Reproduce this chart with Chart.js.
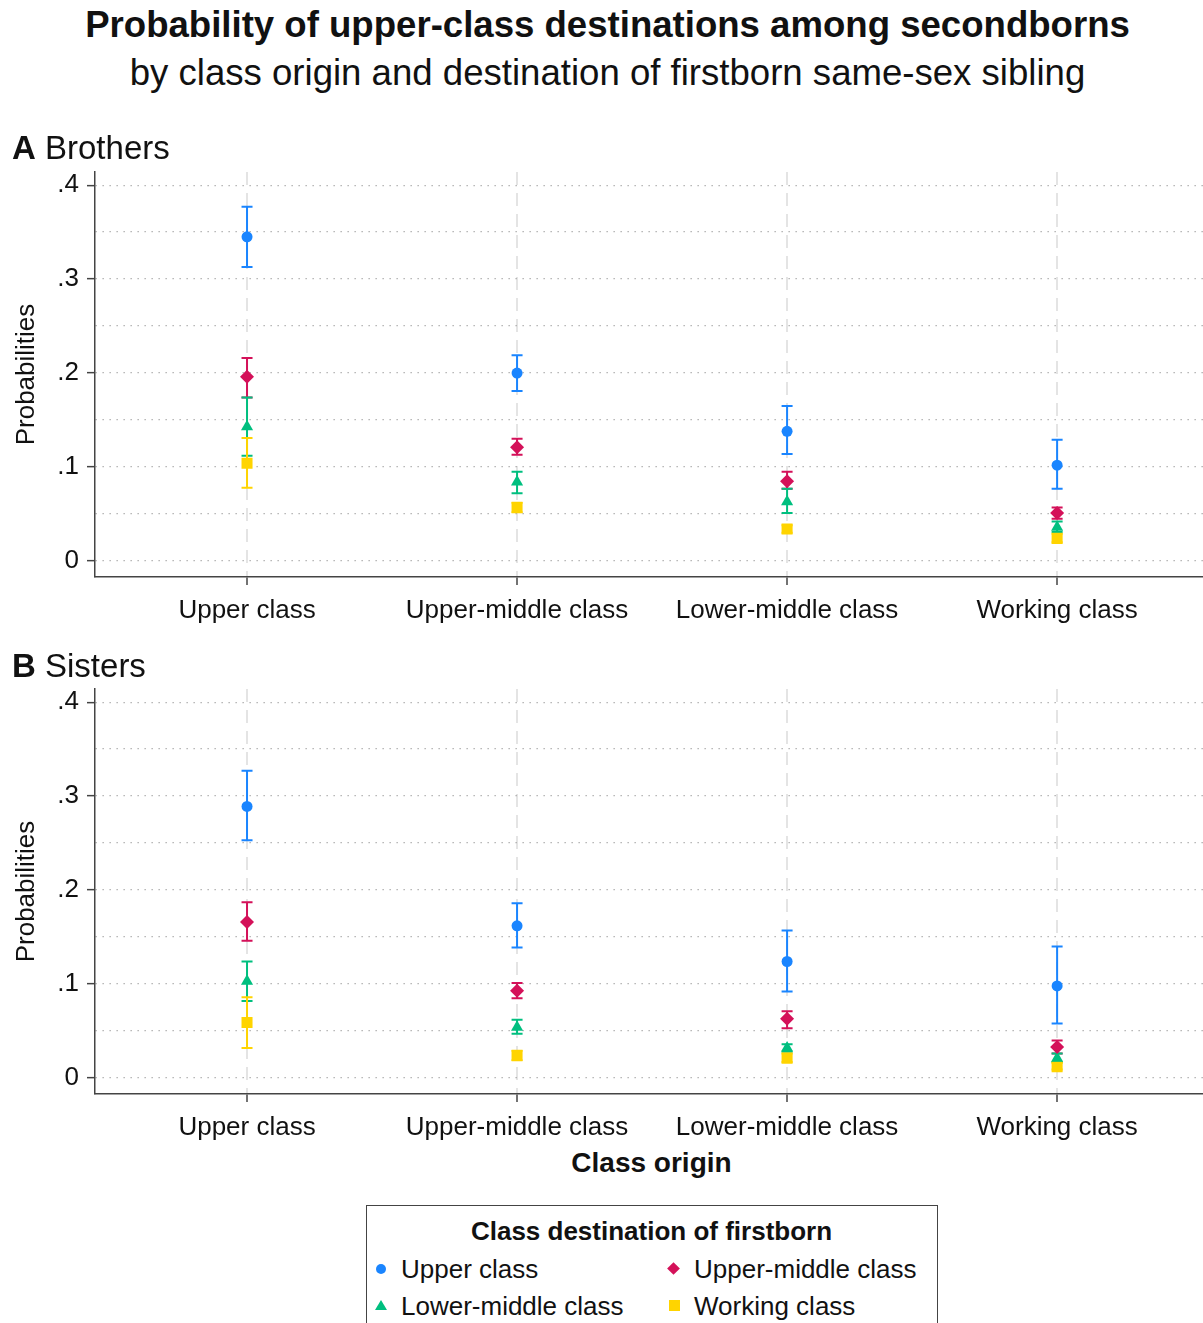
<!DOCTYPE html>
<html>
<head>
<meta charset="utf-8">
<script src="https://cdn.jsdelivr.net/npm/chart.js@4.4.1/dist/chart.umd.min.js"></script>
<style>
  html, body { margin:0; padding:0; background:#fff; overflow:hidden; width:1203px; height:1323px; }
  body { position:relative; font-family:"Liberation Sans", Arial, sans-serif; color:#111; }
  .t { position:absolute; white-space:nowrap; line-height:1; }
  canvas { position:absolute; left:0; }
  .mk { position:absolute; }
</style>
</head>
<body>
<canvas id="cA" width="1211" height="478" style="top:152px"></canvas>
<canvas id="cB" width="1211" height="478" style="top:669px"></canvas>

<div class="t" style="left:0;width:1215px;text-align:center;top:7px;font-size:36.6px;font-weight:bold;">Probability of upper-class destinations among secondborns</div>
<div class="t" style="left:0;width:1215px;text-align:center;top:55px;font-size:36.6px;">by class origin and destination of firstborn same-sex sibling</div>
<div class="t" style="left:12px;top:131px;font-size:33px;"><b>A</b> Brothers</div>
<div class="t" style="left:12px;top:649px;font-size:33px;"><b>B</b> Sisters</div>
<div class="t" style="left:0;width:1303px;text-align:center;top:1149px;font-size:28px;font-weight:bold;">Class origin</div>

<div style="position:absolute;left:366px;top:1205px;width:572px;height:140px;border:1.5px solid #444;box-sizing:border-box;"></div>
<div class="t" style="left:366px;width:571px;text-align:center;top:1218px;font-size:26px;font-weight:bold;">Class destination of firstborn</div>
<div class="mk" style="left:376px;top:1264px;width:10px;height:10px;border-radius:50%;background:#1a85ff;"></div>
<div class="t" style="left:401px;top:1256px;font-size:26px;">Upper class</div>
<div class="mk" style="left:669px;top:1264px;width:9px;height:9px;transform:rotate(45deg);background:#d41159;"></div>
<div class="t" style="left:694px;top:1256px;font-size:26px;">Upper-middle class</div>
<div class="mk" style="left:375px;top:1300px;width:0;height:0;border-left:6px solid transparent;border-right:6px solid transparent;border-bottom:10px solid #00bf7f;"></div>
<div class="t" style="left:401px;top:1293px;font-size:26px;">Lower-middle class</div>
<div class="mk" style="left:669px;top:1300px;width:11px;height:11px;background:#ffd400;"></div>
<div class="t" style="left:694px;top:1293px;font-size:26px;">Working class</div>

<script>
// ---- data ----
const categories = ['Upper class', 'Upper-middle class', 'Lower-middle class', 'Working class'];
const seriesNames = ['Upper class', 'Upper-middle class', 'Lower-middle class', 'Working class'];
const yTickValues = [0, 0.05, 0.1, 0.15, 0.2, 0.25, 0.3, 0.35, 0.4];

// Brothers
const brothersUpper      = [0.345, 0.200, 0.138, 0.102];
const brothersUpperLo    = [0.313, 0.181, 0.114, 0.077];
const brothersUpperHi    = [0.377, 0.219, 0.165, 0.129];
const brothersUpperMid   = [0.196, 0.121, 0.085, 0.051];
const brothersUpperMidLo = [0.174, 0.113, 0.077, 0.045];
const brothersUpperMidHi = [0.216, 0.130, 0.095, 0.057];
const brothersLowerMid   = [0.143, 0.084, 0.063, 0.036];
const brothersLowerMidLo = [0.112, 0.072, 0.051, 0.031];
const brothersLowerMidHi = [0.174, 0.095, 0.077, 0.042];
const brothersWorking    = [0.104, 0.057, 0.034, 0.024];
const brothersWorkingLo  = [0.078, 0.052, 0.030, 0.020];
const brothersWorkingHi  = [0.131, 0.062, 0.038, 0.029];

// Sisters
const sistersUpper      = [0.289, 0.162, 0.124, 0.098];
const sistersUpperLo    = [0.253, 0.139, 0.092, 0.058];
const sistersUpperHi    = [0.327, 0.186, 0.157, 0.140];
const sistersUpperMid   = [0.166, 0.093, 0.063, 0.033];
const sistersUpperMidLo = [0.146, 0.085, 0.053, 0.026];
const sistersUpperMidHi = [0.187, 0.101, 0.071, 0.040];
const sistersLowerMid   = [0.103, 0.054, 0.032, 0.021];
const sistersLowerMidLo = [0.082, 0.047, 0.028, 0.017];
const sistersLowerMidHi = [0.124, 0.062, 0.036, 0.026];
const sistersWorking    = [0.059, 0.024, 0.021, 0.012];
const sistersWorkingLo  = [0.032, 0.019, 0.017, 0.009];
const sistersWorkingHi  = [0.086, 0.029, 0.026, 0.016];

// ---- styling ----
const colors = ['#1a85ff', '#d41159', '#00bf7f', '#ffd400'];
const styles = ['circle', 'rectRot', 'triangle', 'rect'];
const radii = [5.5, 7, 7, 7.8];
const FONT = '"Liberation Sans", Arial, sans-serif';

Chart.defaults.font.family = FONT;
Chart.defaults.color = '#111';

const errorBars = {
  id: 'errorBars',
  beforeDatasetsDraw(chart) {
    const ctx = chart.ctx, xs = chart.scales.x, ys = chart.scales.y;
    chart.data.datasets.forEach(ds => {
      ctx.save();
      ctx.strokeStyle = ds.backgroundColor;
      ctx.lineWidth = 2;
      ds.data.forEach((p, i) => {
        const x = xs.getPixelForValue(p.x);
        const y1 = ys.getPixelForValue(ds.errLo[i]);
        const y2 = ys.getPixelForValue(ds.errHi[i]);
        ctx.beginPath();
        ctx.moveTo(x, y1); ctx.lineTo(x, y2);
        ctx.moveTo(x - 5.5, y1); ctx.lineTo(x + 5.5, y1);
        ctx.moveTo(x - 5.5, y2); ctx.lineTo(x + 5.5, y2);
        ctx.stroke();
      });
      ctx.restore();
    });
  }
};

function isMajor(v) { return Math.abs(v * 10 - Math.round(v * 10)) < 1e-6; }
function fmt(v) { if (Math.abs(v) < 1e-9) return '0'; return '.' + Math.round(v * 10); }

function makeChart(id, vals, los, his) {
  const datasets = vals.map((vs, s) => ({
    label: seriesNames[s],
    data: vs.map((v, i) => ({ x: i, y: v })),
    errLo: los[s], errHi: his[s],
    backgroundColor: colors[s],
    borderColor: colors[s],
    pointStyle: styles[s],
    pointRadius: radii[s],
    pointBorderWidth: 0,
    showLine: false
  }));
  return new Chart(document.getElementById(id), {
    type: 'scatter',
    data: { datasets },
    plugins: [errorBars],
    options: {
      responsive: false,
      devicePixelRatio: 1,
      animation: false,
      layout: { padding: { top: 20, left: 0, right: 0, bottom: 0 } },
      plugins: { legend: { display: false }, tooltip: { enabled: false } },
      scales: {
        x: {
          type: 'linear',
          min: -0.563, max: 3.541,
          afterBuildTicks: sc => { sc.ticks = categories.map((c, i) => ({ value: i })); },
          afterFit: sc => { sc.height = 53; sc.paddingLeft = 0; sc.paddingRight = 0; },
          ticks: {
            callback: v => categories[v] ?? '',
            font: { size: 26 }, color: '#111', padding: 10, maxRotation: 0, autoSkip: false
          },
          grid: { color: '#e4e4e4', lineWidth: 2, tickColor: '#444', tickLength: 8, tickWidth: 1.5 },
          border: { display: true, color: '#444', width: 1.5, dash: [13, 8] }
        },
        y: {
          type: 'linear',
          min: -0.017, max: 0.414,
          afterBuildTicks: sc => { sc.ticks = yTickValues.map(v => ({ value: v })); },
          afterFit: sc => { sc.width = 95; sc.paddingTop = 0; sc.paddingBottom = 0; },
          ticks: {
            callback: v => isMajor(v) ? fmt(v) : '',
            font: { size: 26 }, color: '#111', padding: 8, autoSkip: false
          },
          grid: {
            color: '#a8a8a8', lineWidth: 1.3,
            tickColor: c => (c.tick && isMajor(c.tick.value)) ? '#444' : 'rgba(0,0,0,0)',
            tickLength: 8, tickWidth: 1.5
          },
          border: { display: true, color: '#444', width: 1.5, dash: [1.3, 5.7] },
          title: { display: true, text: 'Probabilities', font: { size: 26 }, color: '#111', padding: { top: 11, bottom: 0 } }
        }
      }
    }
  });
}

makeChart('cA',
  [brothersUpper, brothersUpperMid, brothersLowerMid, brothersWorking],
  [brothersUpperLo, brothersUpperMidLo, brothersLowerMidLo, brothersWorkingLo],
  [brothersUpperHi, brothersUpperMidHi, brothersLowerMidHi, brothersWorkingHi]);
makeChart('cB',
  [sistersUpper, sistersUpperMid, sistersLowerMid, sistersWorking],
  [sistersUpperLo, sistersUpperMidLo, sistersLowerMidLo, sistersWorkingLo],
  [sistersUpperHi, sistersUpperMidHi, sistersLowerMidHi, sistersWorkingHi]);
</script>
</body>
</html>
